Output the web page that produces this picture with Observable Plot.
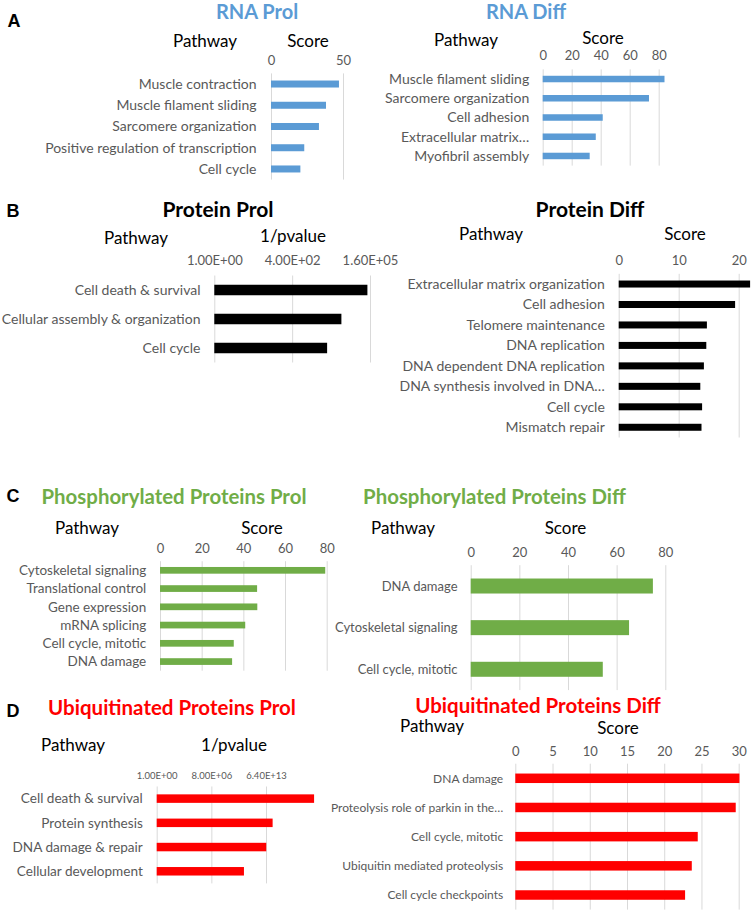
<!DOCTYPE html>
<html><head><meta charset="utf-8">
<script src="https://cdn.jsdelivr.net/npm/d3@7"></script>
<script src="https://cdn.jsdelivr.net/npm/@observablehq/plot@0.6"></script>
<style>
body{margin:0;background:#fff;}
#fig{position:relative;width:752px;height:911px;overflow:hidden;font-family:Lato,sans-serif;background:#fff;}
.t{position:absolute;white-space:nowrap;transform:translate(-50%,-50%);line-height:1;}
.p{position:absolute;}
</style></head><body><div id="fig"></div><script>
// ---- data ----
const rnaProlPathways = ["Muscle contraction","Muscle filament sliding","Sarcomere organization","Positive regulation of transcription","Cell cycle"];
const rnaProlScores = [47.2, 38.2, 33.3, 23.1, 20.4];
const rnaProlTicks = [0, 50];
const rnaProlTickLabels = ["0", "50"];

const rnaDiffPathways = ["Muscle filament sliding","Sarcomere organization","Cell adhesion","Extracellular matrix…","Myofibril assembly"];
const rnaDiffScores = [84, 73.3, 41.4, 36.6, 32.4];
const rnaDiffTicks = [0, 20, 40, 60, 80];
const rnaDiffTickLabels = ["0", "20", "40", "60", "80"];

const protProlPathways = ["Cell death & survival","Cellular assembly & organization","Cell cycle"];
const protProlInvP = [131000, 17700, 5900];
const protProlTicks = [1, 400, 160000];
const protProlTickLabels = ["1.00E+00", "4.00E+02", "1.60E+05"];

const protDiffPathways = ["Extracellular matrix organization","Cell adhesion","Telomere maintenance","DNA replication","DNA dependent DNA replication","DNA synthesis involved in DNA…","Cell cycle","Mismatch repair"];
const protDiffScores = [21.9, 19.4, 14.7, 14.6, 14.2, 13.6, 13.9, 13.8];
const protDiffTicks = [0, 10, 20];
const protDiffTickLabels = ["0", "10", "20"];

const phosProlPathways = ["Cytoskeletal signaling","Translational control","Gene expression","mRNA splicing","Cell cycle, mitotic","DNA damage"];
const phosProlScores = [79.3, 46.6, 46.7, 40.9, 35.4, 34.6];
const phosProlTicks = [0, 20, 40, 60, 80];
const phosProlTickLabels = ["0", "20", "40", "60", "80"];

const phosDiffPathways = ["DNA damage","Cytoskeletal signaling","Cell cycle, mitotic"];
const phosDiffScores = [74.9, 65.1, 54.3];
const phosDiffTicks = [0, 20, 40, 60, 80];
const phosDiffTickLabels = ["0", "20", "40", "60", "80"];

const ubiProlPathways = ["Cell death & survival","Protein synthesis","DNA damage & repair","Cellular development"];
const ubiProlInvP = [7.6e19, 4.4e14, 6.9e13, 1.05e11];
const ubiProlTicks = [1, 8e6, 6.4e13];
const ubiProlTickLabels = ["1.00E+00", "8.00E+06", "6.40E+13"];

const ubiDiffPathways = ["DNA damage","Proteolysis role of parkin in the…","Cell cycle, mitotic","Ubiquitin mediated proteolysis","Cell cycle checkpoints"];
const ubiDiffScores = [30.1, 29.6, 24.5, 23.7, 22.8];
const ubiDiffTicks = [0, 5, 10, 15, 20, 25, 30];
const ubiDiffTickLabels = ["0", "5", "10", "15", "20", "25", "30"];

const BLUE = "#5B9BD5", GREEN = "#70AD47", RED = "#FF0000", BLACK = "#000000";
const GRAY = "#595959", GRID = "#D9D9D9";

const fig = document.getElementById("fig");

function txt(s, cx, cy, opts = {}) {
  const d = document.createElement("div");
  d.className = "t";
  d.textContent = s;
  d.style.left = cx + "px";
  d.style.top = cy + "px";
  d.style.fontSize = (opts.size || 17) + "px";
  d.style.color = opts.color || "#000";
  if (opts.bold) d.style.fontWeight = "bold";
  if (opts.family) d.style.fontFamily = opts.family;
  fig.appendChild(d);
}

function panel(c) {
  const left = c.left, w = 376;
  const top = c.tickY - 16;
  const h = Math.min(911, c.y1 + 4) - top;
  const n = c.cats.length;
  const step = (c.y1 - c.y0) / n;
  const pi = 1 - c.thick / step;
  const data = c.cats.map((k, i) => ({k, v: c.vals[i]}));
  const isLog = c.type === "log";
  const svg = Plot.plot({
    width: w, height: h,
    marginLeft: c.x0 - left, marginRight: left + w - c.x1,
    marginTop: c.y0 - top, marginBottom: top + h - c.y1,
    style: {background: "transparent", fontFamily: "Lato, sans-serif", overflow: "visible"},
    x: {type: isLog ? "log" : "linear", domain: c.domain, axis: null},
    y: {domain: c.cats, paddingInner: pi, paddingOuter: pi / 2, round: false, axis: null},
    marks: [
      Plot.gridX(c.ticks, {stroke: GRID, strokeOpacity: 1, strokeWidth: 1}),
      isLog
        ? Plot.barX(data, {x1: c.domain[0], x2: "v", y: "k", fill: c.color})
        : Plot.barX(data, {x1: 0, x2: "v", y: "k", fill: c.color}),
      Plot.axisY({tickSize: 0, tickPadding: c.pad, fontSize: c.labelSize || 14, color: GRAY, label: null}),
      Plot.text(c.ticks, {x: d => d, text: (d, i) => c.tickLabels[i], frameAnchor: "top", dy: c.tickY - c.y0, fill: GRAY, fontSize: c.tickSize || 13})
    ]
  });
  svg.classList.add("p");
  svg.style.left = left + "px";
  svg.style.top = top + "px";
  fig.appendChild(svg);
}

// Panel A
txt("A", 14, 21, {size: 18, bold: true, family: "Liberation Sans, Arial, sans-serif"});
txt("RNA Prol", 257, 11, {size: 20, bold: true, color: BLUE});
txt("Pathway", 205, 40);
txt("Score", 308, 40);
panel({left: 0, x0: 271, x1: 343, y0: 73.4, y1: 179.6, thick: 7, tickY: 55, pad: 15,
  domain: [0, 50], ticks: rnaProlTicks, tickLabels: rnaProlTickLabels, cats: rnaProlPathways, vals: rnaProlScores, color: BLUE});

txt("RNA Diff", 526, 11, {size: 20, bold: true, color: BLUE});
txt("Pathway", 466, 39);
txt("Score", 603, 37);
panel({left: 376, x0: 542.7, x1: 658.7, y0: 69.4, y1: 165.6, thick: 6.5, tickY: 50, pad: 14,
  domain: [0, 80], ticks: rnaDiffTicks, tickLabels: rnaDiffTickLabels, cats: rnaDiffPathways, vals: rnaDiffScores, color: BLUE});

// Panel B
txt("B", 13, 211, {size: 18, bold: true, family: "Liberation Sans, Arial, sans-serif"});
txt("Protein Prol", 218, 208, {size: 21, bold: true});
txt("Pathway", 136, 237);
txt("1/pvalue", 293, 235);
panel({left: 0, x0: 214.3, x1: 370, y0: 275.5, y1: 362.5, thick: 10.5, tickY: 255, pad: 14.3, type: "log",
  domain: [1, 160000], ticks: protProlTicks, tickLabels: protProlTickLabels, cats: protProlPathways, vals: protProlInvP, color: BLACK});

txt("Protein Diff", 590, 208, {size: 21, bold: true});
txt("Pathway", 491, 233);
txt("Score", 685, 233);
panel({left: 376, x0: 618.7, x1: 738.7, y0: 273.8, y1: 437.5, thick: 7, tickY: 255, pad: 14.4,
  domain: [0, 20], ticks: protDiffTicks, tickLabels: protDiffTickLabels, cats: protDiffPathways, vals: protDiffScores, color: BLACK});

// Panel C
txt("C", 13, 496, {size: 18, bold: true, family: "Liberation Sans, Arial, sans-serif"});
txt("Phosphorylated Proteins Prol", 174, 496, {size: 20.4, bold: true, color: GREEN});
txt("Pathway", 87, 527);
txt("Score", 262, 527);
panel({left: 0, x0: 160, x1: 326.7, y0: 560.9, y1: 670.4, thick: 6.7, tickY: 542.7, pad: 14.3, labelSize: 13.5,
  domain: [0, 80], ticks: phosProlTicks, tickLabels: phosProlTickLabels, cats: phosProlPathways, vals: phosProlScores, color: GREEN});

txt("Phosphorylated Proteins Diff", 494.5, 496, {size: 20.4, bold: true, color: GREEN});
txt("Pathway", 403, 527);
txt("Score", 565.5, 527);
panel({left: 376, x0: 470.7, x1: 665.3, y0: 564.9, y1: 689.8, thick: 15, tickY: 546.7, pad: 13.7, labelSize: 13,
  domain: [0, 80], ticks: phosDiffTicks, tickLabels: phosDiffTickLabels, cats: phosDiffPathways, vals: phosDiffScores, color: GREEN});

// Panel D
txt("D", 13, 711, {size: 18, bold: true, family: "Liberation Sans, Arial, sans-serif"});
txt("Ubiquitinated Proteins Prol", 172, 707, {size: 20.5, bold: true, color: RED});
txt("Pathway", 73, 744);
txt("1/pvalue", 234, 744);
panel({left: 0, x0: 156.7, x1: 266, y0: 786.2, y1: 883.1, thick: 8.5, tickY: 771.7, pad: 14.4, type: "log", tickSize: 9.5, labelSize: 13.6,
  domain: [1, 6.4e13], ticks: ubiProlTicks, tickLabels: ubiProlTickLabels, cats: ubiProlPathways, vals: ubiProlInvP, color: RED});

txt("Ubiquitinated Proteins Diff", 538, 705, {size: 20.5, bold: true, color: RED});
txt("Pathway", 432, 725);
txt("Score", 618, 727);
panel({left: 376, x0: 515.3, x1: 738.7, y0: 763.7, y1: 909.6, thick: 9.5, tickY: 746, pad: 12.6, labelSize: 12,
  domain: [0, 30], ticks: ubiDiffTicks, tickLabels: ubiDiffTickLabels, cats: ubiDiffPathways, vals: ubiDiffScores, color: RED});
</script></body></html>
